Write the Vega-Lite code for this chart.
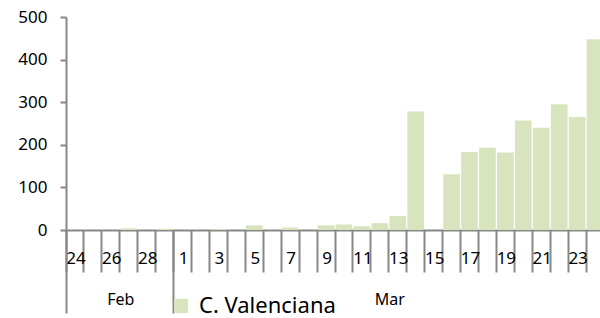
{
  "$schema": "https://vega.github.io/schema/vega-lite/v6.json",
  "width": 534,
  "height": 213,
  "autosize": "none",
  "padding": {"left": 66, "top": 17, "right": 0, "bottom": 88},
  "config": {"view": {"stroke": null}, "font": "Noto Sans", "axis": {"grid": false}},
  "data": {"values": [
    {"date": "Feb 24", "cases": 0},
    {"date": "Feb 25", "cases": 0},
    {"date": "Feb 26", "cases": 0},
    {"date": "Feb 27", "cases": 4},
    {"date": "Feb 28", "cases": 0},
    {"date": "Feb 29", "cases": 3},
    {"date": "Mar 1", "cases": 0},
    {"date": "Mar 2", "cases": 0},
    {"date": "Mar 3", "cases": 2},
    {"date": "Mar 4", "cases": 0},
    {"date": "Mar 5", "cases": 11},
    {"date": "Mar 6", "cases": 0},
    {"date": "Mar 7", "cases": 6},
    {"date": "Mar 8", "cases": 0},
    {"date": "Mar 9", "cases": 11},
    {"date": "Mar 10", "cases": 13},
    {"date": "Mar 11", "cases": 9},
    {"date": "Mar 12", "cases": 16},
    {"date": "Mar 13", "cases": 33},
    {"date": "Mar 14", "cases": 278},
    {"date": "Mar 15", "cases": 0},
    {"date": "Mar 16", "cases": 131},
    {"date": "Mar 17", "cases": 183},
    {"date": "Mar 18", "cases": 193},
    {"date": "Mar 19", "cases": 182},
    {"date": "Mar 20", "cases": 257},
    {"date": "Mar 21", "cases": 240},
    {"date": "Mar 22", "cases": 295},
    {"date": "Mar 23", "cases": 265},
    {"date": "Mar 24", "cases": 448}
  ]},
  "layer": [
    {
      "mark": {"type": "bar", "color": "#d7e4bd", "width": {"band": 0.93}},
      "encoding": {
        "x": {
          "field": "date", "type": "ordinal", "sort": null,
          "scale": {"range": [0, 538], "paddingInner": 0, "paddingOuter": 0},
          "axis": {
            "orient": "bottom", "title": null, "bandPosition": 0,
            "domainColor": "#878787", "domainWidth": 2,
            "tickColor": "#878787", "tickWidth": 2, "tickSize": 42,
            "labelOffset": 1, "labelPadding": -13.5, "labelBaseline": "middle",
            "labelAngle": 0, "labelOverlap": false, "labelFlush": false,
            "labelFontSize": 17, "labelColor": "#000000",
            "labelExpr": "((split(datum.value, ' ')[0] == 'Feb') == (toNumber(split(datum.value, ' ')[1]) % 2 == 0)) ? split(datum.value, ' ')[1] : ''"
          }
        },
        "y": {
          "field": "cases", "type": "quantitative",
          "scale": {"domain": [0, 500]},
          "axis": {
            "title": null, "values": [0, 100, 200, 300, 400, 500],
            "domainColor": "#878787", "domainWidth": 2,
            "tickColor": "#878787", "tickWidth": 2, "tickSize": 6,
            "labelPadding": 13, "labelFontSize": 17, "labelColor": "#000000"
          }
        },
        "color": {
          "datum": "C. Valenciana",
          "scale": {"range": ["#d7e4bd"]},
          "legend": {
            "orient": "none", "legendX": 104, "legendY": 278, "title": null,
            "symbolType": "square", "symbolSize": 200, "symbolStrokeWidth": 0,
            "labelFontSize": 22, "labelColor": "#000000", "labelOffset": 7,
            "padding": 0
          }
        }
      }
    },
    {
      "mark": {"type": "rule", "opacity": 0},
      "encoding": {
        "x": {
          "field": "date", "type": "ordinal", "sort": null,
          "axis": {
            "orient": "bottom", "title": null, "bandPosition": 0,
            "values": ["Feb 24", "Mar 1"], "domain": false, "labels": false,
            "tickColor": "#878787", "tickWidth": 2, "tickSize": 83
          }
        }
      }
    },
    {
      "mark": {"type": "rule", "opacity": 0},
      "encoding": {
        "x": {
          "field": "date", "type": "ordinal", "sort": null,
          "axis": {
            "orient": "bottom", "title": null, "bandPosition": 0,
            "values": ["Feb 27", "Mar 13"], "domain": false, "ticks": false,
            "labelOffset": -8, "labelPadding": 69, "labelBaseline": "middle", "labelAngle": 0,
            "labelFontSize": 16, "labelColor": "#000000", "labelOverlap": false,
            "labelExpr": "datum.value == 'Feb 27' ? 'Feb' : 'Mar'"
          }
        }
      }
    }
  ],
  "resolve": {"axis": {"x": "independent"}}
}
